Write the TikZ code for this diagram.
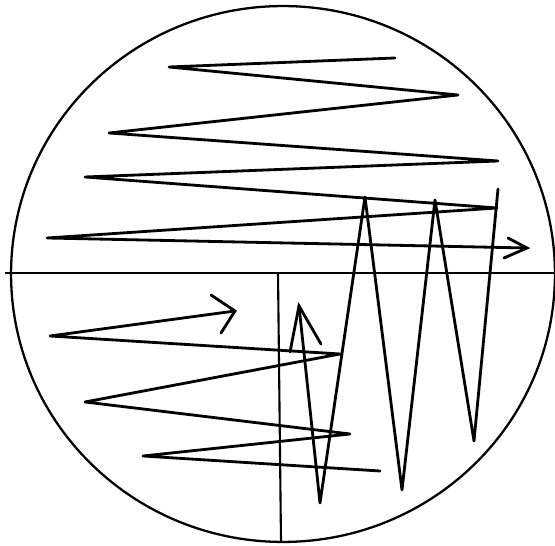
\documentclass[tikz,border=0pt]{standalone}
\usetikzlibrary{calc}
\tikzset{
  %% outer rim and the two axes
  rim/.style={draw=black,line width=1.3pt},
  axis/.style={draw=black,line width=1.2pt},
  %% scribbled zigzag stroke
  zz/.style={draw=black,line width=1.6pt,line join=round,line cap=round},
  %% hand-drawn arrow barbs
  barb/.style={draw=black,line width=1.6pt,line cap=round},
}

\begin{document}
\begin{tikzpicture}[x=0.02cm,y=-0.02cm]
  \useasboundingbox (0,0) rectangle (555,546);
  %% rim
  \coordinate (ctr) at (283,274);
  \draw[rim] (ctr) ellipse [x radius=5.44cm,y radius=5.36cm];
  %% axes
  \coordinate (hl) at (5,273);
  \coordinate (hr) at (555,273);
  \coordinate (vt) at (278,273);
  \coordinate (vb) at (281,541);
  \draw[axis] (hl) -- (hr);
  \draw[axis] (vt) -- (vb);

  %% upper zigzag
  \coordinate (t0) at (395,58);
  \coordinate (t1) at (169,67);
  \coordinate (t2) at (458,95);
  \coordinate (t3) at (109,133);
  \coordinate (t4) at (498,161);
  \coordinate (t5) at (85,177);
  \coordinate (t6) at (497,208);
  \coordinate (t7) at (47,238);
  \coordinate (t8) at (527,248);
  \draw[zz] (t0) -- (t1) -- (t2) -- (t3) -- (t4) -- (t5) -- (t6) -- (t7) -- (t8);
  \draw[barb] (508,238) -- (t8) -- (504,258);

  %% W zigzag
  \coordinate (w0) at (498,189);
  \coordinate (w1) at (474,441);
  \coordinate (w2) at (435,200);
  \coordinate (w3) at (402,490);
  \coordinate (w4) at (365,197);
  \coordinate (w5) at (320,503);
  \coordinate (w6) at (299,306);
  \draw[zz] (w0) -- (w1) -- (w2) -- (w3) -- (w4) -- (w5) -- (w6);
  \draw[barb] (290,352) -- (w6) -- (321,344);

  %% lower zigzag
  \coordinate (l0) at (380,471);
  \coordinate (l1) at (143,456);
  \coordinate (l2) at (350,434);
  \coordinate (l3) at (85,402);
  \coordinate (l4) at (340,354);
  \coordinate (l5) at (50,336);
  \coordinate (l6) at (235,311);
  \draw[zz] (l0) -- (l1) -- (l2) -- (l3) -- (l4) -- (l5) -- (l6);
  \draw[barb] (211,295) -- (l6) -- (221,333);
\end{tikzpicture}
\end{document}
